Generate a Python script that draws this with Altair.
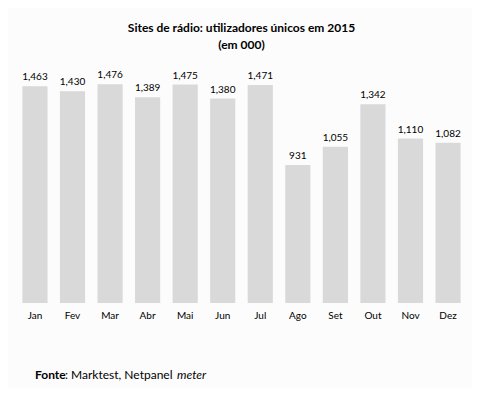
import altair as alt
import pandas as pd

months = ["Jan", "Fev", "Mar", "Abr", "Mai", "Jun", "Jul", "Ago", "Set", "Out", "Nov", "Dez"]
values = [1463, 1430, 1476, 1389, 1475, 1380, 1471, 931, 1055, 1342, 1110, 1082]

df = pd.DataFrame({"mes": months, "valor": values})
one = pd.DataFrame({"k": [0]})

FONT = "Lato"

base = alt.Chart(df).encode(
    x=alt.X("mes:N", sort=months,
            scale=alt.Scale(paddingInner=0.33, paddingOuter=0.17),
            axis=alt.Axis(title=None, labelAngle=0, domain=False, ticks=False,
                          labelPadding=7, labelFontSize=10, labelColor="#000000",
                          labelFont=FONT)),
    y=alt.Y("valor:Q", scale=alt.Scale(domain=[0, 1600]), axis=None),
)

bars = base.mark_bar(color="#d9d9d9")
labels = base.mark_text(dy=-9, fontSize=10, font=FONT, color="#000000").encode(
    text=alt.Text("valor:Q", format=",.0f")
)

f1 = alt.Chart(one).mark_text(align="left", baseline="middle", fontSize=12, font=FONT,
                              fontWeight="bold", color="#000000").encode(
    x=alt.value(19), y=alt.value(309), text=alt.value("Fonte"))
f2 = alt.Chart(one).mark_text(align="left", baseline="middle", fontSize=12, font=FONT,
                              color="#000000").encode(
    x=alt.value(49), y=alt.value(309), text=alt.value(": Marktest, Netpanel"))
f3 = alt.Chart(one).mark_text(align="left", baseline="middle", fontSize=12, font=FONT,
                              fontStyle="italic", color="#000000").encode(
    x=alt.value(161), y=alt.value(309), text=alt.value("meter"))

chart = alt.layer(bars, labels, f1, f2, f3).properties(
    width=451, height=237,
    autosize=alt.AutoSizeParams(type="none"),
    padding={"left": 8, "top": 58, "right": 5, "bottom": 85},
    background="#fcfcfc",
    title=alt.TitleParams(
        text=["Sites de rádio: utilizadores únicos em 2015", "(em 000)"],
        fontSize=12, font=FONT, fontWeight="bold", color="#000000",
        anchor="middle", offset=14, lineHeight=17,
    ),
).configure_view(stroke=None)

chart.save("out.html", embed_options={"renderer": "svg", "actions": False})
